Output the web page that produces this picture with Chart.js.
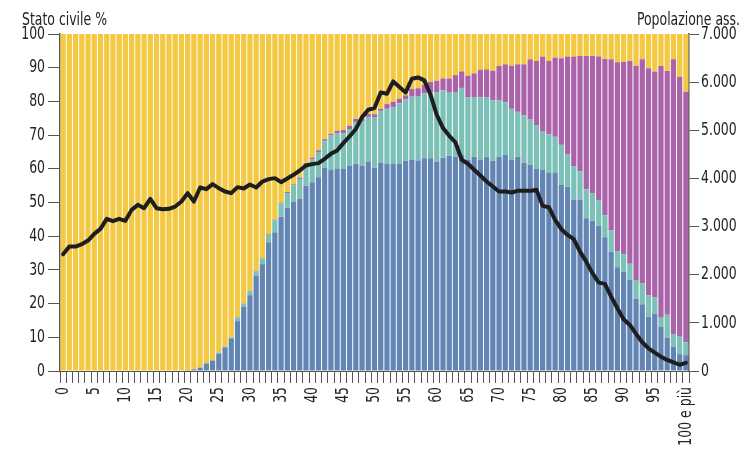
<!DOCTYPE html>
<html><head><meta charset="utf-8">
<script src="https://cdn.jsdelivr.net/npm/chart.js@4"></script>
<style>html,body{margin:0;padding:0;background:#fff;}#wrap{width:745px;height:452px;position:relative;}</style>
</head><body><div id="wrap"><canvas id="c" width="745" height="452"></canvas></div>
<script>
const ages = ['0','1','2','3','4','5','6','7','8','9','10','11','12','13','14','15','16','17','18','19','20','21','22','23','24','25','26','27','28','29','30','31','32','33','34','35','36','37','38','39','40','41','42','43','44','45','46','47','48','49','50','51','52','53','54','55','56','57','58','59','60','61','62','63','64','65','66','67','68','69','70','71','72','73','74','75','76','77','78','79','80','81','82','83','84','85','86','87','88','89','90','91','92','93','94','95','96','97','98','99','100 e più'];
const shownTicks = ['0','5','10','15','20','25','30','35','40','45','50','55','60','65','70','75','80','85','90','95','100 e più'];

// Stato civile % (blu, verde acqua, viola, giallo)
const coniugati = [0,0,0,0,0,0,0,0,0,0,0,0,0,0,0,0,0,0,0,0,
 0.1,0.5,1.0,2.2,3.0,5.2,7.0,9.7,14.8,19.1,22.5,28.3,31.7,38.2,41.2,45.8,48.4,50.3,51.1,55.0,
 56.0,57.5,60.4,59.8,60.0,60.1,61.0,61.5,60.9,62.0,60.4,61.9,61.6,61.6,61.4,62.4,62.6,62.3,63.1,63.1,
 62.0,63.3,63.9,63.6,64.1,62.6,63.6,62.6,63.6,62.4,63.6,64.1,62.6,63.6,61.8,61.2,60.1,59.8,58.8,58.8,
 55.2,54.7,50.9,50.9,45.3,44.6,43.0,39.7,35.4,30.8,29.5,27.0,21.4,19.8,16.1,16.9,13.2,9.9,7.2,5.0,4.7];
const separati = [0,0,0,0,0,0,0,0,0,0,0,0,0,0,0,0,0,0,0,0,
 0,0.1,0.1,0.2,0.3,0.3,0.3,0.3,1.0,0.9,1.2,1.3,1.7,2.2,3.5,4.0,4.4,4.8,5.9,6.1,
 6.8,7.5,7.9,10.1,10.6,10.5,10.8,12.4,13.3,13.4,14.8,15.3,16.2,16.6,18.0,18.2,18.8,19.1,19.3,19.5,
 20.6,20.0,18.7,19.0,19.9,18.6,17.7,18.6,17.7,17.9,16.8,15.6,15.2,13.3,14.0,13.4,12.9,11.2,11.4,10.7,
 11.9,9.7,9.9,8.4,8.6,8.1,7.7,6.5,6.4,4.8,5.2,4.8,5.6,6.2,6.4,5.0,2.6,6.8,3.8,5.2,3.8];
const vedovi = [0,0,0,0,0,0,0,0,0,0,0,0,0,0,0,0,0,0,0,0,
 0,0,0,0,0,0,0,0,0.1,0.1,0.1,0.1,0.2,0.2,0.2,0.2,0.3,0.3,0.4,0.6,
 0.5,0.5,0.5,0.5,0.7,0.9,1.0,0.9,0.7,0.9,1.0,0.6,1.4,1.7,1.4,1.2,2.3,2.5,2.5,3.2,
 3.5,3.5,4.2,5.2,4.9,6.4,7.0,8.2,8.2,8.8,10.1,11.3,12.8,14.1,15.2,17.9,19.0,22.3,21.8,23.5,
 25.7,28.9,32.5,34.2,39.6,40.8,42.6,46.4,50.7,56.0,57.0,60.2,63.6,66.5,67.3,67.0,74.7,72.3,81.5,77.1,74.4];
const celibi = [100,100,100,100,100,100,100,100,100,100,100,100,100,100,100,100,100,100,100,100,
 99.9,99.4,98.9,97.6,96.7,94.5,92.7,90.0,84.1,79.9,76.2,70.3,66.4,59.4,55.1,50.0,46.9,44.6,42.6,38.3,
 36.7,34.5,31.2,29.6,28.7,28.5,27.2,25.2,25.1,23.7,23.8,22.2,20.8,20.1,19.2,18.2,16.3,16.1,15.1,14.2,
 13.9,13.2,13.2,12.2,11.1,12.4,11.7,10.6,10.5,10.9,9.5,9.0,9.4,9.0,9.0,7.5,8.0,6.7,8.0,7.0,
 7.2,6.7,6.7,6.5,6.5,6.5,6.7,7.4,7.5,8.4,8.3,8.0,9.4,7.5,10.2,11.1,9.5,11.0,7.5,12.7,17.1];

// Popolazione assoluta
const popolazione = [2426,2585,2585,2634,2709,2848,2952,3160,3112,3160,3119,3347,3451,3382,3576,3382,3361,3368,3416,3520,
 3694,3520,3811,3777,3881,3798,3728,3694,3819,3791,3874,3811,3936,3985,4006,3922,3999,4075,4165,4269,
 4297,4318,4408,4511,4580,4734,4871,5025,5274,5426,5461,5787,5759,6015,5898,5787,6071,6098,6036,5738,
 5322,5046,4886,4747,4387,4304,4179,4061,3936,3832,3728,3728,3707,3742,3742,3742,3763,3430,3403,3139,
 2945,2827,2737,2480,2272,2031,1836,1809,1545,1304,1075,956,769,596,471,381,298,229,181,130,170];

const FONT = "'DejaVu Sans Condensed','DejaVu Sans',sans-serif";
const FS = 18;
const SQUEEZE = 0.77;
const TXT = '#222';
const AX = '#555';

// narrow lettering (condensed face): squeeze text horizontally around its anchor
const condense = {
  id: 'condense',
  beforeDraw(chart) {
    const c = chart.ctx;
    if (c.__condensed) return;
    const orig = c.fillText;
    c.fillText = function (t, x, y, mw) {
      this.save();
      this.translate(x, y);
      this.scale(SQUEEZE, 1);
      if (mw !== undefined) orig.call(this, t, 0, 0, mw / SQUEEZE); else orig.call(this, t, 0, 0);
      this.restore();
    };
    c.__condensed = true;
  }
};

const titles = {
  id: 'titles',
  afterDraw(chart) {
    const c = chart.ctx;
    c.save();
    c.fillStyle = TXT;
    c.font = FS + 'px ' + FONT;
    c.textBaseline = 'alphabetic';
    c.textAlign = 'left';
    c.fillText('Stato civile %', 22, 25);
    c.textAlign = 'right';
    c.fillText('Popolazione ass.', 740, 25);
    c.restore();
  }
};

function thousands(v) { return String(v).replace(/\B(?=(\d{3})+(?!\d))/g, '.'); }

new Chart(document.getElementById('c'), {
  type: 'bar',
  data: {
    labels: ages,
    datasets: [
      { type: 'line', label: 'Popolazione ass.', data: popolazione, yAxisID: 'y2', borderColor: '#1e1e1e', borderWidth: 4, pointRadius: 0, tension: 0, order: 0, borderJoinStyle: 'round', borderCapStyle: 'round' },
      { label: 'Coniugati', data: coniugati, backgroundColor: '#6285b4', yAxisID: 'y', order: 1 },
      { label: 'Separati/divorziati', data: separati, backgroundColor: '#7cc1b7', yAxisID: 'y', order: 1 },
      { label: 'Vedovi', data: vedovi, backgroundColor: '#aa62a9', yAxisID: 'y', order: 1 },
      { label: 'Celibi/nubili', data: celibi, backgroundColor: '#f3c843', yAxisID: 'y', order: 1 }
    ]
  },
  options: {
    responsive: false,
    animation: false,
    devicePixelRatio: 1,
    layout: { padding: { top: 34, left: 0, right: 0, bottom: 0 } },
    datasets: { bar: { barPercentage: 0.84, categoryPercentage: 1 } },
    plugins: { legend: { display: false }, tooltip: { enabled: false } },
    scales: {
      x: {
        stacked: true,
        grid: { display: true, drawOnChartArea: false, tickLength: 12, color: AX, offset: true },
        border: { color: AX, width: 1 },
        ticks: {
          autoSkip: false, maxRotation: 90, minRotation: 90, padding: 4,
          color: TXT, font: { family: FONT, size: FS },
          callback: function (v, i) { const l = ages[i]; return shownTicks.includes(l) ? l : ''; }
        },
        afterFit(s) { s.height = 81; }
      },
      y: {
        stacked: true, min: 0, max: 100,
        grid: { drawOnChartArea: false, tickLength: 12, color: AX },
        border: { color: AX, width: 1.5 },
        ticks: { stepSize: 10, padding: 3, color: TXT, font: { family: FONT, size: FS } },
        afterFit(s) { s.width = 60; }
      },
      y2: {
        position: 'right', min: 0, max: 7000,
        grid: { drawOnChartArea: false, tickLength: 10, color: AX },
        border: { color: AX, width: 1.5 },
        ticks: { stepSize: 1000, padding: 2, color: TXT, font: { family: FONT, size: FS }, callback: v => thousands(v) },
        afterFit(s) { s.width = 56; }
      }
    }
  },
  plugins: [condense, titles]
});
</script></body></html>
